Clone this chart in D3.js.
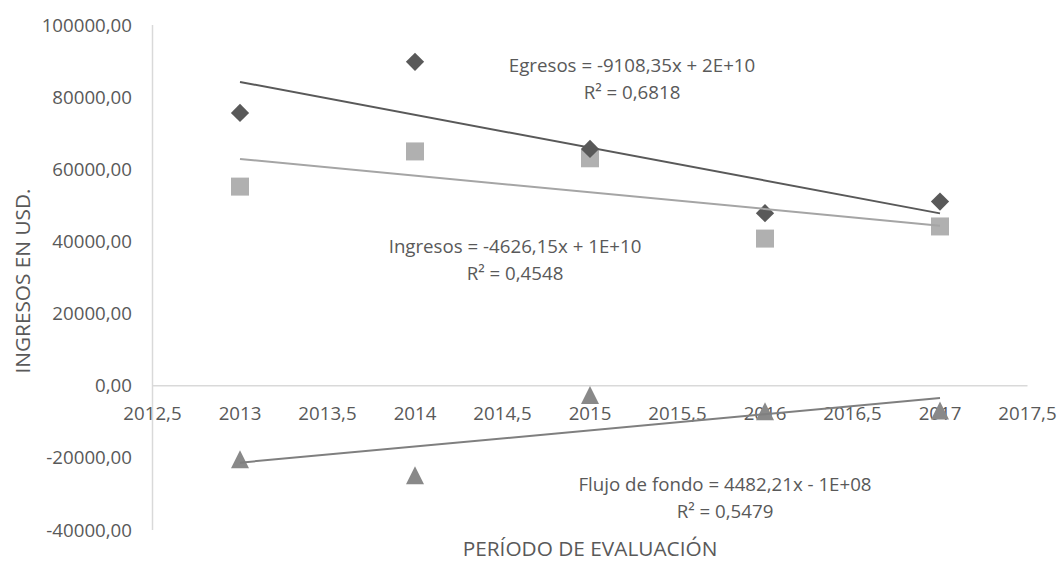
<!DOCTYPE html>
<html lang="es">
<head>
<meta charset="utf-8">
<title>Ingresos, egresos y flujo de fondo</title>
<script src="https://cdn.jsdelivr.net/npm/d3@7"></script>
<style>
  html, body { margin: 0; padding: 0; background: #ffffff; }
  svg { display: block; font-family: "Open Sans", "Noto Sans", sans-serif; }
  text { fill: #595959; }
</style>
</head>
<body>
<svg id="chart" width="1061" height="561"></svg>
<script>
// Años evaluados
const years = [2013, 2014, 2015, 2016, 2017];

// Series (USD)
const egresos = [75610, 89800, 65650, 47840, 51050];
const ingresos = [55200, 64950, 63050, 40790, 44150];
const flujoFondo = [-20410, -24850, -2600, -7050, -6900];

// Ejes
const xTicks = [2012.5, 2013, 2013.5, 2014, 2014.5, 2015, 2015.5, 2016, 2016.5, 2017, 2017.5];
const yTicks = [-40000, -20000, 0, 20000, 40000, 60000, 80000, 100000];

// Etiquetas de las líneas de tendencia
const eqEgresos = ["Egresos = -9108,35x + 2E+10", "R² = 0,6818"];
const eqIngresos = ["Ingresos = -4626,15x + 1E+10", "R² = 0,4548"];
const eqFlujo = ["Flujo de fondo = 4482,21x - 1E+08", "R² = 0,5479"];

const svg = d3.select("#chart");

const x = d3.scaleLinear().domain([2012.5, 2017.5]).range([152.5, 1027.5]);
const y = d3.scaleLinear().domain([-40000, 100000]).range([530, 25]);

const labelSize = 18.7;
const titleSize = 20.8;

const fmtX = v => String(v).replace(".", ",");
const fmtY = v => d3.format(".2f")(v).replace("−", "-").replace(".", ",");

// Eje vertical
svg.append("line")
  .attr("x1", x(2012.5)).attr("x2", x(2012.5))
  .attr("y1", y(100000)).attr("y2", y(-40000))
  .attr("stroke", "#d9d9d9").attr("stroke-width", 1.5);

// Eje horizontal (cruza en 0)
svg.append("line")
  .attr("x1", x(2012.5)).attr("x2", x(2017.5))
  .attr("y1", y(0)).attr("y2", y(0))
  .attr("stroke", "#d9d9d9").attr("stroke-width", 1.5);

// Etiquetas del eje Y
svg.append("g").selectAll("text").data(yTicks).join("text")
  .attr("x", 132)
  .attr("y", d => y(d))
  .attr("dy", "0.35em")
  .attr("text-anchor", "end")
  .attr("font-size", labelSize)
  .text(fmtY);

// Etiquetas del eje X
svg.append("g").selectAll("text").data(xTicks).join("text")
  .attr("x", d => x(d))
  .attr("y", y(0) + 28)
  .attr("dy", "0.35em")
  .attr("text-anchor", "middle")
  .attr("font-size", labelSize)
  .text(fmtX);

// Títulos de los ejes
svg.append("text")
  .attr("x", 590).attr("y", 549)
  .attr("dy", "0.35em")
  .attr("text-anchor", "middle")
  .attr("font-size", titleSize)
  .text("PERÍODO DE EVALUACIÓN");

svg.append("text")
  .attr("transform", "translate(23,281) rotate(-90)")
  .attr("dy", "0.35em")
  .attr("text-anchor", "middle")
  .attr("font-size", titleSize)
  .text("INGRESOS EN USD.");

// Regresión lineal por mínimos cuadrados
function linreg(xs, ys) {
  const mx = d3.mean(xs), my = d3.mean(ys);
  const sxy = d3.sum(xs, (v, i) => (v - mx) * (ys[i] - my));
  const sxx = d3.sum(xs, v => (v - mx) * (v - mx));
  const m = sxy / sxx;
  return { m, b: my - m * mx };
}

// Triángulo isósceles (ancho ≈ alto)
const symbolTri = {
  draw(ctx, size) {
    const s = Math.sqrt(size);
    ctx.moveTo(0, -s / 2);
    ctx.lineTo(s / 2, s / 2);
    ctx.lineTo(-s / 2, s / 2);
    ctx.closePath();
  }
};

const series = [
  { name: "Ingresos", values: ingresos, color: "#a5a5a5", marker: "#b0b0b0",
    symbol: d3.symbolSquare, size: 18 * 18, rotate: 0 },
  { name: "Egresos", values: egresos, color: "#595959", marker: "#595959",
    symbol: d3.symbolSquare, size: 12.9 * 12.9, rotate: 45 },
  { name: "Flujo de fondo", values: flujoFondo, color: "#7f7f7f", marker: "#898989",
    symbol: symbolTri, size: 18 * 18, rotate: 0 }
];

// Marcadores
series.forEach(s => {
  svg.append("g").selectAll("path").data(years).join("path")
    .attr("d", d3.symbol().type(s.symbol).size(s.size))
    .attr("transform", (d, i) => `translate(${x(d)},${y(s.values[i])}) rotate(${s.rotate})`)
    .attr("fill", s.marker);
});

// Líneas de tendencia
series.forEach(s => {
  const r = linreg(years, s.values);
  const x0 = years[0], x1 = years[years.length - 1];
  svg.append("line")
    .attr("x1", x(x0)).attr("y1", y(r.m * x0 + r.b))
    .attr("x2", x(x1)).attr("y2", y(r.m * x1 + r.b))
    .attr("stroke", s.color).attr("stroke-width", 2);
});

// Ecuaciones
function equation(lines, cx, cy) {
  const t = svg.append("text")
    .attr("text-anchor", "middle")
    .attr("font-size", labelSize);
  lines.forEach((l, i) => {
    t.append("tspan").attr("x", cx).attr("y", cy + i * 27).attr("dy", "0.35em").text(l);
  });
}
equation(eqEgresos, 632, 65);
equation(eqIngresos, 515, 246);
equation(eqFlujo, 725, 484);
</script>
</body>
</html>
